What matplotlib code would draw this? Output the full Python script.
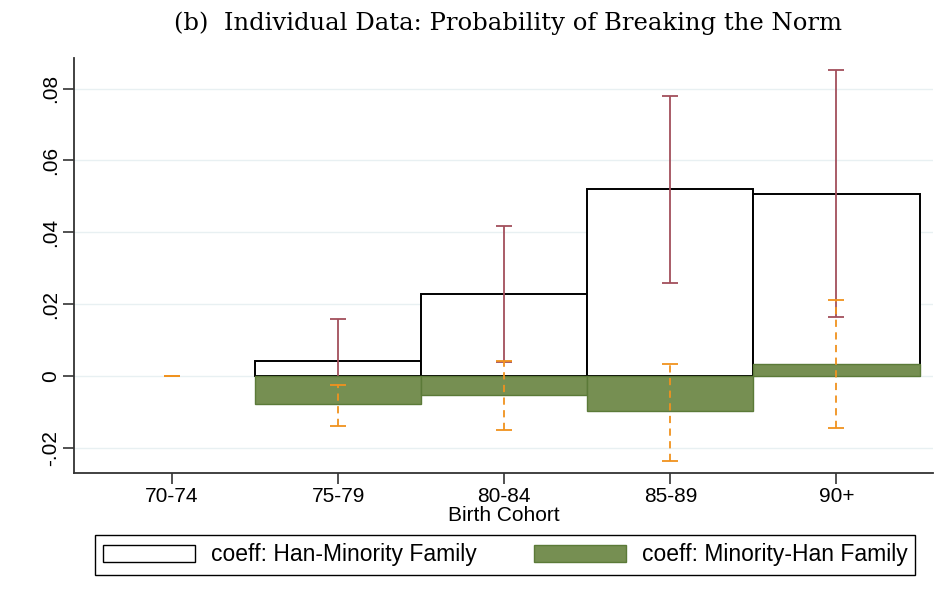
import numpy as np
import matplotlib.pyplot as plt
from matplotlib.patches import Patch

cohorts = ["70-74", "75-79", "80-84", "85-89", "90+"]

# coefficient: Han-Minority family (70-74 not estimated)
han_coef = [np.nan, 0.0042, 0.0228, 0.0520, 0.0506]
han_lo = [np.nan, -0.0076, 0.0040, 0.0259, 0.0164]
han_hi = [np.nan, 0.0159, 0.0417, 0.0780, 0.0852]

# coefficient: Minority-Han family
min_coef = [0.0, -0.0078, -0.0052, -0.0097, 0.0033]
min_lo = [0.0, -0.0140, -0.0150, -0.0236, -0.0145]
min_hi = [0.0, -0.0025, 0.0042, 0.0033, 0.0211]

plt.rcParams["font.family"] = ["Liberation Sans", "DejaVu Sans"]

GREEN = "#768f52"
GREEN_EDGE = "#5b7a38"
RED = "#a34f5c"
ORANGE = "#f0921e"

x = np.arange(len(cohorts))
han = np.nan_to_num(np.array(han_coef))

fig = plt.figure(figsize=(9.48, 5.92), dpi=100)
ax = fig.add_axes([0.078, 0.2015, 0.906, 0.7005])

for y in [-0.02, 0, 0.02, 0.04, 0.06, 0.08]:
    ax.axhline(y, color="#e8f0f2", lw=1.0, zorder=0)

mask = ~np.isnan(np.array(han_coef))
ax.bar(x[mask], han[mask], width=1.0, facecolor="white", edgecolor="black",
       linewidth=1.4, zorder=2)

hc = np.array(han_coef)[mask]
ax.errorbar(x[mask], hc,
            yerr=[hc - np.array(han_lo)[mask], np.array(han_hi)[mask] - hc],
            fmt="none", ecolor=RED, elinewidth=1.3, capsize=6, capthick=1.3,
            zorder=3)

ax.bar(x[1:], np.array(min_coef)[1:], width=1.0, facecolor=GREEN,
       edgecolor=GREEN_EDGE, linewidth=1.0, zorder=4)

mc = np.array(min_coef)
eb = ax.errorbar(x, mc, yerr=[mc - np.array(min_lo), np.array(min_hi) - mc],
                 fmt="none", ecolor=ORANGE, elinewidth=1.3, capsize=6,
                 capthick=1.3, zorder=5)
eb[2][0].set_linestyle((0, (4, 3)))

ax.set_xlim(-0.59, 4.58)
ax.set_ylim(-0.0269, 0.0885)
ax.set_xticks(x)
ax.set_xticklabels(cohorts, fontsize=15)
ax.set_yticks([-0.02, 0, 0.02, 0.04, 0.06, 0.08])
ax.set_yticklabels(["-.02", "0", ".02", ".04", ".06", ".08"], fontsize=15,
                   rotation=90, va="center")
ax.tick_params(axis="both", length=8, width=1.2, color="#333333", pad=2)
ax.set_xlabel("Birth Cohort", fontsize=15, labelpad=0)

for s in ["top", "right"]:
    ax.spines[s].set_visible(False)
for s in ["left", "bottom"]:
    ax.spines[s].set_color("#333333")
    ax.spines[s].set_linewidth(1.3)

fig.suptitle("(b)  Individual Data: Probability of Breaking the Norm",
             family=["DejaVu Serif"], fontsize=17.5, x=0.536, y=0.98)

handles = [Patch(facecolor="white", edgecolor="black", linewidth=1.0),
           Patch(facecolor=GREEN, edgecolor=GREEN_EDGE, linewidth=1.0)]
leg = fig.legend(handles, ["coeff: Han-Minority Family", "coeff: Minority-Han Family"],
                 loc="center", bbox_to_anchor=(0.533, 0.0625), ncol=2,
                 fontsize=16.5, handlelength=4.0, handleheight=0.8,
                 columnspacing=2.5, handletextpad=0.7, fancybox=False,
                 edgecolor="black", borderpad=0.35, borderaxespad=0,
                 framealpha=1)
leg.get_frame().set_linewidth(1.0)

fig.savefig("out.png", dpi=100)
